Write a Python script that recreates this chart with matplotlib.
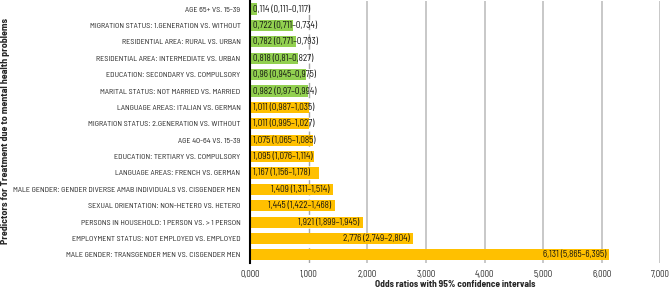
import matplotlib
matplotlib.use("Agg")
import matplotlib.pyplot as plt
from matplotlib import font_manager

# =========================
# Data
# =========================
categories = [
    "AGE 65+ VS. 15-39",
    "MIGRATION STATUS: 1.GENERATION VS. WITHOUT",
    "RESIDENTIAL AREA: RURAL VS. URBAN",
    "RESIDENTIAL AREA: INTERMEDIATE VS. URBAN",
    "EDUCATION: SECONDARY VS. COMPULSORY",
    "MARITAL STATUS: NOT MARRIED VS. MARRIED",
    "LANGUAGE AREAS: ITALIAN VS. GERMAN",
    "MIGRATION STATUS: 2.GENERATION VS. WITHOUT",
    "AGE 40-64 VS. 15-39",
    "EDUCATION: TERTIARY VS. COMPULSORY",
    "LANGUAGE AREAS: FRENCH VS. GERMAN",
    "MALE GENDER: GENDER DIVERSE AMAB INDIVIDUALS VS. CISGENDER MEN",
    "SEXUAL ORIENTATION: NON-HETERO VS. HETERO",
    "PERSONS IN HOUSEHOLD: 1 PERSON VS. > 1 PERSON",
    "EMPLOYMENT STATUS: NOT EMPLOYED VS. EMPLOYED",
    "MALE GENDER: TRANSGENDER MEN VS. CISGENDER MEN",
]
odds = [0.114, 0.722, 0.782, 0.818, 0.96, 0.982, 1.011, 1.011,
        1.075, 1.095, 1.167, 1.409, 1.445, 1.921, 2.776, 6.131]
ci_low = ["0,111", "0,711", "0,771", "0,81", "0,945", "0,97", "0,987", "0,995",
          "1,065", "1,076", "1,156", "1,311", "1,422", "1,899", "2,749", "5,865"]
ci_high = ["0,117", "0,734", "0,793", "0,827", "0,975", "0,994", "1,035", "1,027",
           "1,085", "1,114", "1,178", "1,514", "1,468", "1,945", "2,804", "6,395"]
odds_txt = ["0,114", "0,722", "0,782", "0,818", "0,96", "0,982", "1,011", "1,011",
            "1,075", "1,095", "1,167", "1,409", "1,445", "1,921", "2,776", "6,131"]
xticks = [0, 1, 2, 3, 4, 5, 6, 7]

# =========================
# Font (narrow font if available)
# =========================
names = {f.name for f in font_manager.fontManager.ttflist}
fam = "DejaVu Sans"
for cand in ["Barlow Semi Condensed", "Archivo Narrow", "Asap Condensed",
             "Roboto Condensed", "Liberation Sans Narrow"]:
    if cand in names:
        fam = cand
        break
plt.rcParams["font.family"] = [fam, "DejaVu Sans"]

# =========================
# Plot
# =========================
fig = plt.figure(figsize=(6.69, 2.91), dpi=100)
ax = fig.add_axes([0.374, 0.096, 0.613, 0.901])

y = list(range(len(categories)))
colors = ["#92D050" if v < 1 else "#FFC000" for v in odds]
ax.barh(y, odds, height=0.68, color=colors, zorder=3)

for i, v in enumerate(odds):
    lab = f"{odds_txt[i]} ({ci_low[i]}\u2013{ci_high[i]})"
    if v < 1.3:
        ax.text(0.04, i, lab, ha="left", va="center", fontsize=6.6,
                color="#111111", zorder=4)
    else:
        ax.text(v - 0.06, i, lab, ha="right", va="center", fontsize=6.6,
                color="#111111", zorder=4)

ax.set_ylim(len(categories) - 0.5, -0.5)
ax.set_xlim(0, 7)
ax.set_yticks(y)
ax.set_yticklabels(categories, fontsize=5.8, color="#262626")
ax.set_xticks(xticks)
ax.set_xticklabels([f"{t:.3f}".replace(".", ",") for t in xticks],
                   fontsize=6.4, color="#262626")
ax.tick_params(axis="both", length=0)
ax.tick_params(axis="y", pad=7)
ax.tick_params(axis="x", pad=5)

for t in xticks[1:]:
    if t == 1:
        ax.axvline(t, color="#a6a6a6", lw=1, ls=(0, (4, 3)), zorder=1)
    else:
        ax.axvline(t, color="#bfbfbf", lw=1.2, zorder=1)

for s in ["top", "right", "bottom"]:
    ax.spines[s].set_visible(False)
ax.spines["left"].set_linewidth(1.5)
ax.spines["left"].set_color("black")
ax.spines["left"].set_zorder(5)

ax.set_xlabel("Odds ratios with 95% confidence intervals", fontsize=6.8,
              fontweight="bold", color="#262626", labelpad=1)
fig.text(0.008, 0.55, "Predictors for Treatment due to mental health problems",
         rotation=90, ha="center", va="center", fontsize=7.2,
         fontweight="bold", color="#262626")

fig.savefig("out.png", dpi=100)
